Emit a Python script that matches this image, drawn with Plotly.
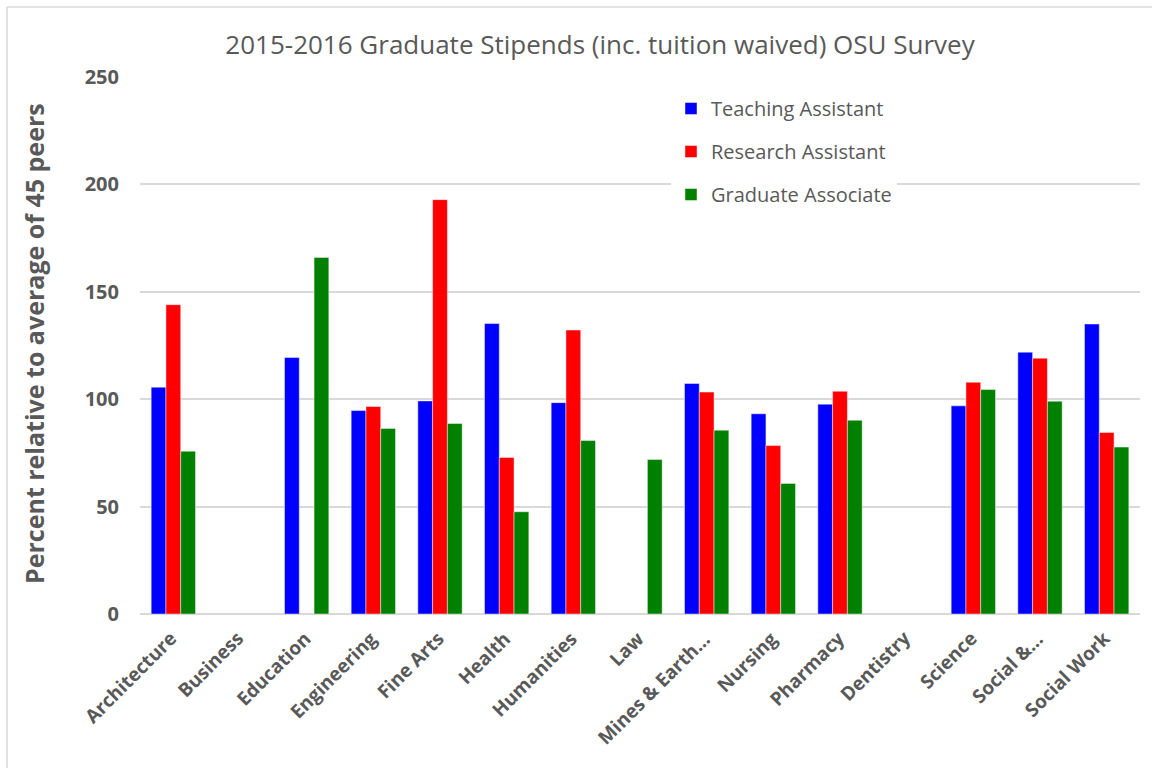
import plotly.graph_objects as go

# Stipend survey values, percent of peer average
colleges = ["Architecture", "Business", "Education", "Engineering", "Fine Arts",
            "Health", "Humanities", "Law", "Mines & Earth…", "Nursing",
            "Pharmacy", "Dentistry", "Science", "Social &…", "Social Work"]
teaching = [105.6, None, 119.4, 94.7, 99.2, 135.2, 98.4, None, 107.3, 93.2,
            97.7, None, 96.9, 121.9, 135.0]
research = [144.0, None, None, 96.6, 192.9, 72.9, 132.2, None, 103.3, 78.4,
            103.7, None, 107.9, 119.1, 84.5]
associate = [75.8, None, 166.0, 86.4, 88.7, 47.6, 80.8, 71.9, 85.6, 60.8,
             90.2, None, 104.5, 99.1, 77.7]
y_ticks = [0, 50, 100, 150, 200, 250]

series = [
    ("Teaching Assistant", teaching, "#0000FF"),
    ("Research Assistant", research, "#FF0000"),
    ("Graduate Associate", associate, "#008000"),
]

TEXT = "#595959"
GRID = "#D9D9D9"
FONT = "Open Sans"

fig = go.Figure()
for i, (name, vals, color) in enumerate(series):
    fig.add_trace(go.Bar(
        name=name, x=colleges, y=vals, legendgroup=f"g{i}",
        marker=dict(color=color, line=dict(color="rgba(255,255,255,0.45)", width=1)),
    ))

L, R, T, B = 140, 12, 77, 154
W, H = 1152, 768
pw, ph = W - L - R, H - T - B

def px_x(p):
    return (p - L) / pw

def px_y(p):
    return (H - B - p) / ph

# Slanted category labels, anchored by their upper-right corner below each group
cat_labels = [dict(text=c, xref="x", yref="y", x=c, y=0, xanchor="right",
                   yanchor="top", textangle=-45, showarrow=False,
                   xshift=12, yshift=-9,
                   font=dict(family=FONT, size=19, color=TEXT, weight="bold"))
              for c in colleges]

fig.update_layout(
    width=W, height=H,
    margin=dict(l=L, r=R, t=T, b=B, autoexpand=False),
    paper_bgcolor="white", plot_bgcolor="white",
    font=dict(family=FONT, color=TEXT),
    barmode="group", bargap=0.335, bargroupgap=0,
    title=dict(text="2015-2016 Graduate Stipends (inc. tuition waived) OSU Survey",
               x=px_x(600), xanchor="center", xref="paper", y=1 - 45 / H, yanchor="middle",
               font=dict(family=FONT, size=26, color=TEXT)),
    legend=dict(x=px_x(671), y=px_y(89), xanchor="left", yanchor="top",
                bgcolor="white", font=dict(family=FONT, size=20, color=TEXT),
                tracegroupgap=14, traceorder="grouped",
                itemwidth=30),
    xaxis=dict(type="category", categoryorder="array", categoryarray=colleges,
               range=[-0.5, len(colleges) - 0.5], autorange=False,
               showgrid=False, showline=False, ticks="", showticklabels=False),
    yaxis=dict(range=[0, 250], tickvals=y_ticks, showgrid=True, gridcolor=GRID,
               gridwidth=1.5, zeroline=True, zerolinecolor=GRID, zerolinewidth=1.5,
               showline=False, ticks="", ticklabelstandoff=20,
               tickfont=dict(family=FONT, size=20, color=TEXT, weight="bold")),
    annotations=cat_labels + [dict(text="Percent relative to average of 45 peers",
                      xref="paper", yref="paper", x=px_x(34), y=px_y(344),
                      xanchor="center", yanchor="middle", textangle=-90,
                      showarrow=False,
                      font=dict(family=FONT, size=25, color=TEXT, weight="bold"))],
    shapes=[
        dict(type="line", xref="paper", yref="paper", x0=px_x(7), x1=px_x(7),
             y0=px_y(7), y1=px_y(H + 5), line=dict(color=GRID, width=1.5)),
        dict(type="line", xref="paper", yref="paper", x0=px_x(7), x1=px_x(W + 5),
             y0=px_y(7), y1=px_y(7), line=dict(color=GRID, width=1.5)),
    ],
)

fig.write_html("out.html")
